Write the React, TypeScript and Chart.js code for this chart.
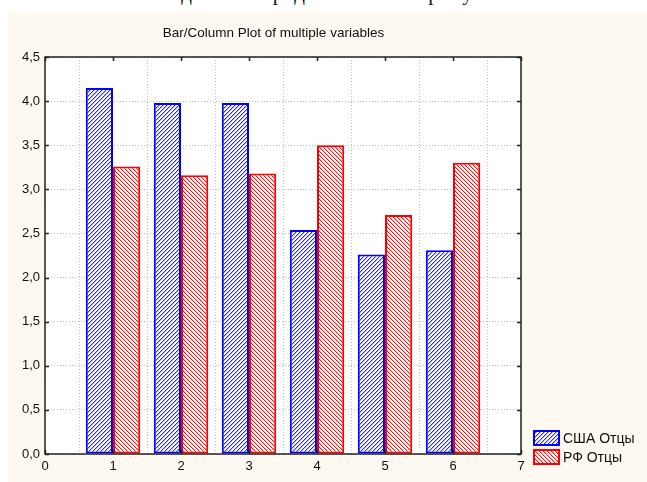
import React, { useEffect, useRef } from "react";
import { Chart, registerables } from "chart.js";

Chart.register(...registerables);

const categories = [1, 2, 3, 4, 5, 6];
const usaFathers = [4.15, 3.98, 3.98, 2.54, 2.26, 2.31];
const rfFathers = [3.26, 3.16, 3.18, 3.5, 2.71, 3.3];
const seriesLabels = ["США Отцы", "РФ Отцы"];
const titleText = "Bar/Column Plot of multiple variables";
const xMin = 0;
const xMax = 7;
const yMin = 0;
const yMax = 4.5;
const yStep = 0.5;

function hatch(color: string, soft: string, dir: "/" | "\\") {
  const n = 4;
  const c = document.createElement("canvas");
  c.width = n;
  c.height = n;
  const g = c.getContext("2d")!;
  g.fillStyle = "#ffffff";
  g.fillRect(0, 0, n, n);
  for (let i = 0; i < n; i++) {
    const y = dir === "/" ? n - 1 - i : i;
    g.fillStyle = color;
    g.fillRect(i, y, 1, 1);
    g.fillStyle = soft;
    g.fillRect((i + 1) % n, y, 1, 1);
  }
  return g.createPattern(c, "repeat")!;
}

const FONT = "'Liberation Sans', Arial, sans-serif";

export default function App() {
  const ref = useRef<HTMLCanvasElement | null>(null);

  useEffect(() => {
    const canvas = ref.current!;
    const blue = "#0000ff";
    const red = "#ff0000";
    const blueHatch = hatch("#2828ff", "#b4b4ff", "/");
    const redHatch = hatch("#ff1010", "#ffb8b8", "\\");

    const framePlugin = {
      id: "frame",
      beforeDraw(chart: any) {
        const { ctx, chartArea: a } = chart;
        ctx.save();
        ctx.fillStyle = "#ffffff";
        ctx.fillRect(a.left, a.top, a.right - a.left, a.bottom - a.top);
        ctx.restore();
      },
      afterDatasetsDraw(chart: any) {
        const { ctx, chartArea: a, scales } = chart;
        ctx.save();
        ctx.strokeStyle = "#222222";
        ctx.lineWidth = 1.5;
        ctx.strokeRect(a.left, a.top, a.right - a.left, a.bottom - a.top);
        const tl = 4;
        scales.y.ticks.forEach((t: any) => {
          const y = Math.round(scales.y.getPixelForValue(t.value)) + 0.5;
          ctx.beginPath();
          ctx.moveTo(a.left, y);
          ctx.lineTo(a.left + tl, y);
          ctx.moveTo(a.right, y);
          ctx.lineTo(a.right - tl, y);
          ctx.stroke();
        });
        scales.x.ticks.forEach((t: any) => {
          const x = Math.round(scales.x.getPixelForValue(t.value)) + 0.5;
          ctx.beginPath();
          ctx.moveTo(x, a.top);
          ctx.lineTo(x, a.top + tl);
          ctx.moveTo(x, a.bottom);
          ctx.lineTo(x, a.bottom - tl);
          ctx.stroke();
        });
        ctx.restore();
      },
      afterDraw(chart: any) {
        const { ctx, chartArea: a } = chart;
        ctx.save();
        ctx.fillStyle = "#111111";
        ctx.font = `13.5px ${FONT}`;
        ctx.textAlign = "center";
        ctx.textBaseline = "middle";
        ctx.fillText(titleText, a.left + (a.right - a.left) * 0.48, 21);
        const fills = [blueHatch, redHatch];
        const cols = [blue, red];
        const bx = a.right + 13;
        const bw = 25;
        const bh = 14;
        const ys = [a.bottom - 23, a.bottom - 4];
        ctx.textAlign = "left";
        ctx.font = `14px ${FONT}`;
        for (let i = 0; i < 2; i++) {
          ctx.fillStyle = fills[i];
          ctx.fillRect(bx, ys[i], bw, bh);
          ctx.strokeStyle = cols[i];
          ctx.lineWidth = 2;
          ctx.strokeRect(bx, ys[i], bw, bh);
          ctx.fillStyle = "#111111";
          ctx.fillText(seriesLabels[i], bx + bw + 4, ys[i] + bh / 2 + 1);
        }
        ctx.restore();
      },
    };

    const chart = new Chart(canvas, {
      type: "bar",
      data: {
        datasets: [
          {
            label: seriesLabels[0],
            data: categories.map((c, i) => ({ x: c, y: usaFathers[i] })),
            backgroundColor: blueHatch as any,
            borderColor: blue,
            borderWidth: 2,
            borderSkipped: false,
            categoryPercentage: 0.8,
            barPercentage: 1.0,
          },
          {
            label: seriesLabels[1],
            data: categories.map((c, i) => ({ x: c, y: rfFathers[i] })),
            backgroundColor: redHatch as any,
            borderColor: red,
            borderWidth: 2,
            borderSkipped: false,
            categoryPercentage: 0.8,
            barPercentage: 1.0,
          },
        ],
      },
      options: {
        animation: false,
        responsive: false,
        devicePixelRatio: 1,
        layout: { padding: { top: 45, right: 126, left: 0, bottom: 0 } },
        plugins: {
          legend: { display: false },
          title: { display: false },
          tooltip: { enabled: false },
        },
        scales: {
          x: {
            type: "linear",
            min: xMin,
            max: xMax,
            offset: false,
            border: { display: false, dash: [1, 2] },
            grid: { color: "#bcbcbc", drawTicks: false },
            ticks: {
              stepSize: 1,
              padding: 5,
              color: "#111111",
              font: { family: FONT, size: 13 },
              callback: (v: any) => String(v),
            },
            afterFit: (s: any) => {
              s.height = 28;
            },
          },
          y: {
            min: yMin,
            max: yMax,
            border: { display: false, dash: [1, 2] },
            grid: { color: "#bcbcbc", drawTicks: false },
            ticks: {
              stepSize: yStep,
              padding: 5,
              color: "#111111",
              font: { family: FONT, size: 13 },
              callback: (v: any) => Number(v).toFixed(1).replace(".", ","),
            },
            afterFit: (s: any) => {
              s.width = 37;
            },
          },
        },
      } as any,
      plugins: [framePlugin],
    });
    return () => chart.destroy();
  }, []);

  return (
    <div>
      <div
        style={{
          position: "fixed",
          left: 0,
          top: 0,
          width: 647,
          height: 11,
          overflow: "hidden",
          background: "#ffffff",
        }}
      >
        <div
          style={{
            position: "absolute",
            left: 128,
            top: -19,
            whiteSpace: "nowrap",
            fontFamily: "'Liberation Serif', 'Times New Roman', serif",
            fontSize: 21,
            letterSpacing: 1,
            color: "#111",
          }}
        >
          наглядно это представлено на рисунке 1.
        </div>
      </div>
      <canvas
        ref={ref}
        width={639}
        height={470}
        style={{
          position: "fixed",
          left: 8,
          top: 12,
          width: 639,
          height: 470,
          background: "#fdf8f0",
          display: "block",
        }}
      />
    </div>
  );
}
